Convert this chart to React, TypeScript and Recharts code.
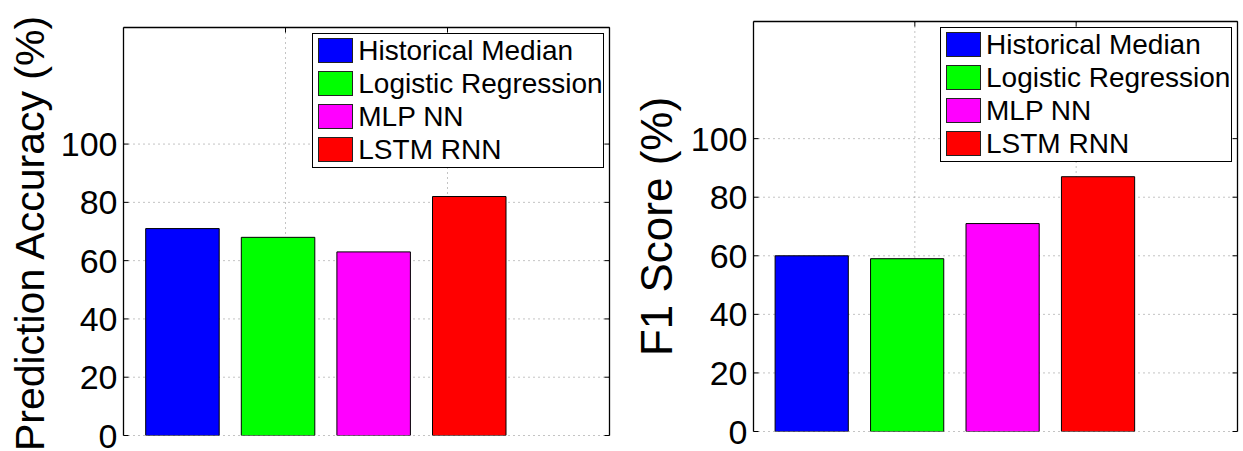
import React from 'react';
import { BarChart, Bar, XAxis, YAxis, CartesianGrid, Legend, Cell } from 'recharts';

const models = ['Historical Median', 'Logistic Regression', 'MLP NN', 'LSTM RNN'];
const colors = ['#0000ff', '#00ff00', '#ff00ff', '#ff0000'];
const accuracy = [71, 68, 63, 82];
const f1Score = [60, 59, 71, 87];
const yTicks = [0, 20, 40, 60, 80, 100];
const gridTicks = [1, 2, 3, 4, 5];

const FONT = '"Liberation Sans", Arial, Helvetica, sans-serif';
const FRAME = { stroke: '#000', strokeWidth: 1.3 };

const LegendBox = () => (
  <div
    style={{
      border: '1.5px solid #000',
      background: '#fff',
      padding: '4px 5px',
      boxSizing: 'border-box',
      width: 292,
      height: 135,
      fontFamily: FONT,
    }}
  >
    {models.map((m, i) => (
      <div key={m} style={{ display: 'flex', alignItems: 'flex-start', height: 25, marginBottom: i < models.length - 1 ? 8 : 0 }}>
        <div style={{ width: 35, height: 25, background: colors[i], border: '1px solid #222', boxSizing: 'border-box', flex: 'none' }} />
        <span style={{ marginLeft: 5, fontSize: 28, lineHeight: '25px', color: '#000', whiteSpace: 'nowrap' }}>{m}</span>
      </div>
    ))}
  </div>
);

type Cfg = {
  width: number; top: number; right: number; bottom: number; yw: number;
  padL: number; padR: number; barSize: number; legLeft: number; legTop: number;
  labelX: number; labelSize: number; labelDy: number;
};

function Panel({ values, label, cfg }: { values: number[]; label: string; cfg: Cfg }) {
  const data = models.map((m, i) => ({ model: m, value: values[i] }));
  const renderLabel = (p: any) => {
    const vb = p.viewBox || {};
    const x = (vb.x || 0) + cfg.labelX;
    const y = (vb.y || 0) + (vb.height || 0) / 2 + cfg.labelDy;
    return (
      <text x={x} y={y} transform={`rotate(-90, ${x}, ${y})`} textAnchor="middle" fontSize={cfg.labelSize} fontFamily={FONT} fill="#000">
        {label}
      </text>
    );
  };
  return (
    <BarChart width={cfg.width} height={451} data={data} margin={{ top: cfg.top, right: cfg.right, bottom: cfg.bottom, left: 0 }}>
      <CartesianGrid xAxisId="grid" yAxisId="val" stroke="#888" strokeDasharray="1 4" />
      <XAxis xAxisId="cat" dataKey="model" type="category" height={0} padding={{ left: cfg.padL, right: cfg.padR }} tick={false} tickLine={false} axisLine={FRAME} />
      <XAxis xAxisId="grid" orientation="top" type="number" domain={[0, 6]} ticks={gridTicks} interval={0} allowDataOverflow mirror tickSize={5} tickFormatter={() => ''} axisLine={FRAME} tickLine={{ stroke: '#000' }} />
      <YAxis yAxisId="val" domain={[0, 140]} ticks={yTicks} interval={0} allowDataOverflow width={cfg.yw} tickSize={0} tickMargin={6} axisLine={FRAME} tick={{ fill: '#000', fontSize: 34, fontFamily: FONT }} label={renderLabel} />
      <YAxis yAxisId="lm" orientation="left" mirror domain={[0, 140]} ticks={yTicks} interval={0} allowDataOverflow tickSize={5} tickFormatter={() => ''} axisLine={false} tickLine={{ stroke: '#000' }} />
      <YAxis yAxisId="r" orientation="right" mirror domain={[0, 140]} ticks={yTicks} interval={0} allowDataOverflow tickSize={5} tickFormatter={() => ''} axisLine={FRAME} tickLine={{ stroke: '#000' }} />
      <Bar xAxisId="cat" yAxisId="val" dataKey="value" barSize={cfg.barSize} stroke="#000" strokeWidth={1} isAnimationActive={false}>
        {data.map((d, i) => (
          <Cell key={d.model} fill={colors[i]} />
        ))}
      </Bar>
      <Legend
        layout="horizontal"
        verticalAlign="middle"
        align="center"
        content={<LegendBox />}
        wrapperStyle={{ left: cfg.legLeft, top: cfg.legTop, width: 292, height: 135, margin: 0, padding: 0 }}
      />
    </BarChart>
  );
}

const leftCfg: Cfg = {
  width: 620, top: 27.5, right: 10.5, bottom: 15.5, yw: 123.5,
  padL: 11.2, padR: 92.4, barSize: 73.5, legLeft: 312.3, legTop: 33.3,
  labelX: 44, labelSize: 41, labelDy: 2,
};
const rightCfg: Cfg = {
  width: 623, top: 21.5, right: 5.5, bottom: 19.5, yw: 133.5,
  padL: 10.6, padR: 91.6, barSize: 73.2, legLeft: 320, legTop: 27.3,
  labelX: 51.7, labelSize: 44, labelDy: 0,
};

export default function App() {
  return (
    <div style={{ position: 'absolute', left: 0, top: 0, width: 1243, height: 451, background: '#fff', overflow: 'hidden' }}>
      <div style={{ position: 'absolute', left: 0, top: 0 }}>
        <Panel values={accuracy} label="Prediction Accuracy (%)" cfg={leftCfg} />
      </div>
      <div style={{ position: 'absolute', left: 620, top: 0 }}>
        <Panel values={f1Score} label="F1 Score (%)" cfg={rightCfg} />
      </div>
    </div>
  );
}
